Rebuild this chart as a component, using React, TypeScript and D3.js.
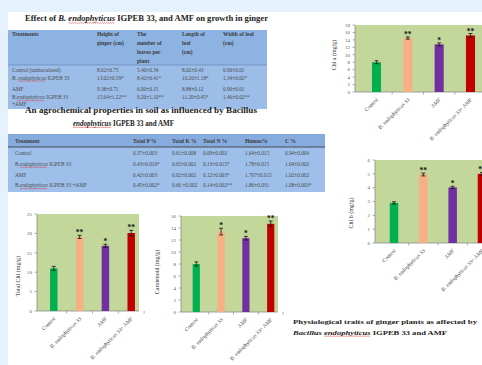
import { useEffect, useRef, useState } from "react";
import { scaleBand, scaleLinear, range } from "d3";

const SERIF = "'Liberation Serif', 'Times New Roman', serif";

const TREATMENTS = [
  "Control",
  "B. endophyticus 33",
  "AMF",
  "B. endophyticus 33+ AMF",
];
const BAR_COLORS = ["#00b050", "#f6b084", "#7030a0", "#c00000"];

const CHL_A = [8.0, 14.5, 12.8, 15.2];
const CHL_A_ERR = [0.4, 0.3, 0.4, 0.5];
const CHL_A_SIG = ["", "**", "*", "**"];

const CHL_B = [2.9, 4.95, 4.02, 5.0];
const CHL_B_ERR = [0.08, 0.1, 0.08, 0.1];
const CHL_B_SIG = ["", "**", "*", "**"];

const TOTAL_CHL = [11.0, 19.1, 16.8, 20.1];
const TOTAL_CHL_ERR = [0.5, 0.4, 0.4, 0.7];
const TOTAL_CHL_SIG = ["", "**", "*", "**"];

const CAROTENOID = [8.0, 13.4, 12.3, 14.7];
const CAROTENOID_ERR = [0.35, 0.55, 0.3, 0.45];
const CAROTENOID_SIG = ["", "*", "*", "**"];

// growth table
const GROWTH_HEADERS = [
  ["Treatments"],
  ["Height of", "ginger (cm)"],
  ["The", "number of", "leaves per", "plant"],
  ["Length of", "leaf", "(cm)"],
  ["Width of leaf", "(cm)"],
];
const GROWTH_ROWS = [
  ["Control (uninoculated)", "8.62±0.75", "5.40±0.34", "8.02±0.43", "0.90±0.01"],
  ["B. endophyticus  IGPEB 33", "13.02±0.59*", "8.42±0.41*", "10.20±1.18*", "1.34±0.02*"],
  ["AMF", "9.38±0.71", "6.00±0.15", "8.88±0.12", "0.90±0.01"],
  ["B.endophyticus  IGPEB 33", "15.64±1.22**", "9.20±1.10**", "11.20±0.45*", "1.46±0.02**"],
  ["+AMF", "", "", "", ""],
];

// soil table
const SOIL_HEADERS = ["Treatment", "Total P %", "Total K %", "Total N %", "Humus%", "C %"];
const SOIL_ROWS = [
  ["Control", "0.37±0.003", "0.61±0.008", "0.09±0.002", "1.64±0.015", "0.94±0.004"],
  ["B.endophyticus  IGPEB 33", "0.43±0.010*", "0.65±0.002", "0.13±0.015*", "1.78±0.015", "1.04±0.002"],
  ["AMF", "0.42±0.003", "0.62±0.002", "0.12±0.003*", "1.767±0.015", "1.02±0.002"],
  ["B.endophyticus  IGPEB 33 +AMF", "0.45±0.002*", "0.66 ±0.002", "0.14±0.002**", "1.86±0.031", "1.08±0.003*"],
];

// wrap the misspelt word like word does (red squiggle added after layout)
const spell = (s: string) => {
  const parts = s.split("endophyticus");
  if (parts.length === 1) return s;
  return (
    <>
      {parts[0]}
      <tspan className="sq" fontStyle="italic">
        endophyticus
      </tspan>
      {parts[1]}
    </>
  );
};

type PanelProps = {
  values: number[];
  errors: number[];
  sig: string[];
  yMax: number;
  yStep: number;
  box: { left: number; right: number; top: number; bottom: number };
  band: [number, number];
  yLabel: string;
  labelX: number;
  labelY: number;
};

const BarPanel = ({
  values,
  errors,
  sig,
  yMax,
  yStep,
  box,
  band,
  yLabel,
  labelX,
  labelY,
}: PanelProps) => {
  const x = scaleBand<string>()
    .domain(TREATMENTS)
    .range(band)
    .paddingInner(0.71)
    .paddingOuter(0.35);
  const y = scaleLinear().domain([0, yMax]).range([box.bottom, box.top]);
  const ticks = range(0, yMax + yStep / 2, yStep);
  const step = x.step();

  return (
    <g fontFamily={SERIF}>
      <rect
        x={box.left}
        y={box.top}
        width={box.right - box.left}
        height={box.bottom - box.top}
        fill="#c4d79b"
      />
      <line x1={box.left} x2={box.left} y1={box.top} y2={box.bottom} stroke="#8a8a8a" strokeWidth={0.8} />
      <line x1={box.left} x2={box.right} y1={box.bottom} y2={box.bottom} stroke="#8a8a8a" strokeWidth={0.8} />
      {ticks.map((t) => (
        <g key={t}>
          <line x1={box.left - 2.5} x2={box.left} y1={y(t)} y2={y(t)} stroke="#8a8a8a" strokeWidth={0.7} />
          <text x={box.left - 5} y={y(t) + 1.8} fontSize={5} textAnchor="end" fill="#555">
            {t}
          </text>
        </g>
      ))}
      {TREATMENTS.map((d) => {
        const cx = (x(d) ?? 0) + x.bandwidth() / 2;
        return (
          <line
            key={"t" + d}
            x1={cx + step / 2}
            x2={cx + step / 2}
            y1={box.bottom}
            y2={box.bottom + 2.5}
            stroke="#8a8a8a"
            strokeWidth={0.7}
          />
        );
      })}
      {TREATMENTS.map((d, i) => {
        const bx = x(d) ?? 0;
        const cx = bx + x.bandwidth() / 2;
        const top = y(values[i] + errors[i]);
        const bot = y(values[i] - errors[i]);
        return (
          <g key={d}>
            <rect
              x={bx}
              y={y(values[i])}
              width={x.bandwidth()}
              height={y(0) - y(values[i])}
              fill={BAR_COLORS[i]}
            />
            <line x1={cx} x2={cx} y1={top} y2={bot} stroke="#111" strokeWidth={0.8} />
            <line x1={cx - 2} x2={cx + 2} y1={top} y2={top} stroke="#111" strokeWidth={0.8} />
            <line x1={cx - 2} x2={cx + 2} y1={bot} y2={bot} stroke="#111" strokeWidth={0.8} />
            {sig[i] && (
              <text x={cx} y={top} fontSize={7.5} fontWeight="bold" textAnchor="middle" fill="#111">
                {sig[i]}
              </text>
            )}
            <text
              transform={`translate(${cx + 2},${box.bottom + 8}) rotate(-45)`}
              fontSize={5.4}
              textAnchor="end"
              fill="#444"
            >
              {d}
            </text>
          </g>
        );
      })}
      <text
        transform={`translate(${labelX},${labelY}) rotate(-90)`}
        fontSize={6}
        textAnchor="middle"
        fill="#333"
      >
        {yLabel}
      </text>
    </g>
  );
};

const GROWTH_COL_X = [12, 97, 137, 182, 223];
const GROWTH_ROW_Y = [72, 79.7, 91, 99.3, 106];
const SOIL_COL_X = [15, 133, 172, 203, 245, 285];
const SOIL_ROW_Y = [155.3, 166, 177, 187.3];

type Squig = { x1: number; x2: number; y: number };

export default function App() {
  const svgRef = useRef<SVGSVGElement>(null);
  const [squigs, setSquigs] = useState<Squig[]>([]);

  useEffect(() => {
    const nodes = svgRef.current?.querySelectorAll("tspan.sq") ?? [];
    const out: Squig[] = [];
    nodes.forEach((n: any) => {
      const len = n.getNumberOfChars();
      if (!len) return;
      const a = n.getStartPositionOfChar(0);
      const b = n.getEndPositionOfChar(len - 1);
      const fs = parseFloat(getComputedStyle(n).fontSize) || 6;
      out.push({ x1: a.x, x2: b.x, y: a.y + fs * 0.22 });
    });
    setSquigs(out);
  }, []);

  const wave = (s: Squig) => {
    const pts = range(s.x1, s.x2, 1);
    return pts.map((px, i) => `${i ? "L" : "M"}${px},${s.y + (i % 2 ? 0.6 : -0.3)}`).join("");
  };

  return (
    <svg
      ref={svgRef}
      width={482}
      height={365}
      style={{ position: "absolute", left: 0, top: 0 }}
      fontFamily={SERIF}
    >
      <rect x={0} y={0} width={482} height={365} fill="#e5f2fb" />
      <rect x={8} y={12} width={474} height={353} fill="#ffffff" />

      {/* growth table */}
      <text x={25} y={21} fontSize={8} fontWeight="bold" fill="#222" textLength={243} lengthAdjust="spacingAndGlyphs">
        Effect of <tspan fontStyle="italic">B. </tspan>
        <tspan className="sq" fontStyle="italic">endophyticus</tspan> IGPEB 33, and AMF on growth  in ginger
      </text>
      <rect x={8} y={30} width={259} height={35} fill="#8db3e2" />
      <rect x={8} y={65} width={259} height={44} fill="#9cbde8" />
      <line x1={8} x2={267} y1={65} y2={65} stroke="#5f7fae" strokeWidth={0.6} />
      {GROWTH_HEADERS.map((lines, c) =>
        lines.map((l, k) => (
          <text key={c + "-" + k} x={GROWTH_COL_X[c]} y={36.3 + k * 8.8} fontSize={5.5} fontWeight="bold" fill="#3c3c3c">
            {l}
          </text>
        ))
      )}
      {GROWTH_ROWS.map((row, r) =>
        row.map((cell, c) => (
          <text key={r + "-" + c} x={GROWTH_COL_X[c]} y={GROWTH_ROW_Y[r]} fontSize={5.3} fill="#4a4a4a">
            {c === 0 ? spell(cell) : cell}
          </text>
        ))
      )}

      {/* soil table */}
      <text x={25} y={112.5} fontSize={7.8} fontWeight="bold" fill="#222" textLength={232} lengthAdjust="spacingAndGlyphs">
        An agrochemical  properties  in soil  as influenced  by  Bacillus
      </text>
      <text x={73} y={125.5} fontSize={7.8} fontWeight="bold" fill="#222" textLength={101} lengthAdjust="spacingAndGlyphs">
        <tspan className="sq" fontStyle="italic">endophyticus</tspan> IGPEB 33 and AMF
      </text>
      <rect x={8} y={134} width={317} height={13} fill="#86abdd" />
      <rect x={8} y={147} width={317} height={45} fill="#9dbfe9" />
      <line x1={8} x2={325} y1={147} y2={147} stroke="#333" strokeWidth={0.8} />
      {SOIL_HEADERS.map((h, c) => (
        <text key={h} x={SOIL_COL_X[c]} y={142.5} fontSize={5.5} fontWeight="bold" fill="#3c3c3c">
          {h}
        </text>
      ))}
      {SOIL_ROWS.map((row, r) =>
        row.map((cell, c) => (
          <text key={r + "-" + c} x={SOIL_COL_X[c]} y={SOIL_ROW_Y[r]} fontSize={5.3} fill="#4a4a4a">
            {c === 0 ? spell(cell) : cell}
          </text>
        ))
      )}

      <BarPanel
        values={CHL_A}
        errors={CHL_A_ERR}
        sig={CHL_A_SIG}
        yMax={18}
        yStep={2}
        box={{ left: 355, right: 484, top: 25, bottom: 92 }}
        band={[361, 486]}
        yLabel="Chl a (mg/g)"
        labelX={336}
        labelY={55}
      />
      <BarPanel
        values={CHL_B}
        errors={CHL_B_ERR}
        sig={CHL_B_SIG}
        yMax={6}
        yStep={1}
        box={{ left: 375, right: 484, top: 160, bottom: 243 }}
        band={[379.5, 496.5]}
        yLabel="Chl b (mg/g)"
        labelX={353}
        labelY={213}
      />
      <BarPanel
        values={TOTAL_CHL}
        errors={TOTAL_CHL_ERR}
        sig={TOTAL_CHL_SIG}
        yMax={25}
        yStep={5}
        box={{ left: 37, right: 139, top: 214, bottom: 311 }}
        band={[41, 144]}
        yLabel="Total Chl (mg/g)"
        labelX={20}
        labelY={276}
      />
      <BarPanel
        values={CAROTENOID}
        errors={CAROTENOID_ERR}
        sig={CAROTENOID_SIG}
        yMax={16}
        yStep={2}
        box={{ left: 181, right: 278, top: 216, bottom: 312 }}
        band={[184, 283]}
        yLabel="Carotenoid (mg/g)"
        labelX={159}
        labelY={272}
      />

      <text x={293} y={323.5} fontSize={7} fontWeight="bold" fill="#222" textLength={184} lengthAdjust="spacingAndGlyphs">
        Physiological  traits of ginger plants  as affected by
      </text>
      <text x={293} y={334.5} fontSize={7} fontWeight="bold" fill="#222" textLength={154} lengthAdjust="spacingAndGlyphs">
        <tspan fontStyle="italic">Bacillus </tspan>
        <tspan className="sq" fontStyle="italic">endophyticus</tspan> IGPEB 33 and AMF
      </text>

      {squigs.map((s, i) => (
        <path key={i} d={wave(s)} fill="none" stroke="#e03030" strokeWidth={0.5} />
      ))}
    </svg>
  );
}
